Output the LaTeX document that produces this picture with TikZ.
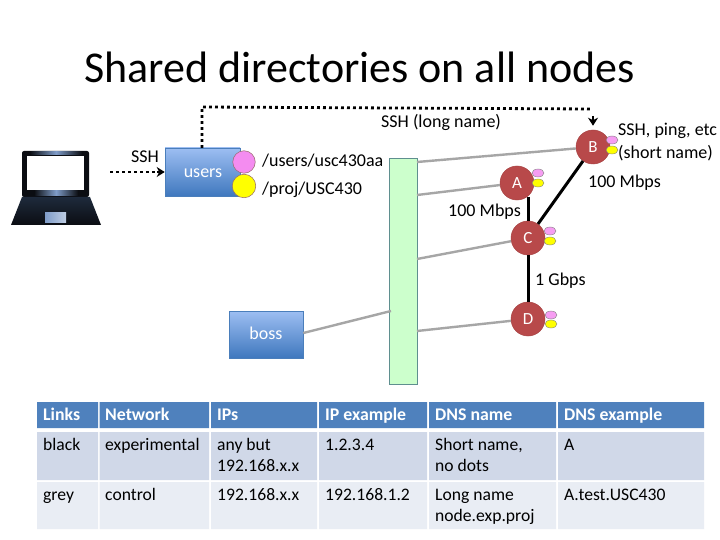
\documentclass[tikz,border=0pt]{standalone}
\usepackage{fontspec}
\setmainfont{Carlito}
\usetikzlibrary{arrows.meta,calc,shapes.geometric}
\definecolor{hdr}{HTML}{4F81BD}
\definecolor{rowa}{HTML}{D0D8E8}
\definecolor{rowb}{HTML}{E9EDF4}
\definecolor{nodered}{HTML}{B8494A}
\definecolor{nodedge}{HTML}{A84343}
\definecolor{pinkc}{HTML}{F48CF0}
\definecolor{yelc}{HTML}{FFFF00}
\definecolor{barfill}{HTML}{CCFFCC}
\definecolor{baredge}{HTML}{5F8F8F}
\definecolor{greyl}{HTML}{A6A6A6}
\definecolor{boxtop}{HTML}{9DBEF2}
\definecolor{boxbot}{HTML}{3F78BE}
\definecolor{boxedge}{HTML}{4A7EBB}
\definecolor{lapdark}{HTML}{0B0D12}
\definecolor{lapbase}{HTML}{1E2A3C}
\definecolor{lapshine}{HTML}{7F9CC8}
\tikzset{
  lbl/.style={inner sep=0pt,anchor=west,text height=12pt,text depth=1pt,font=\fontsize{18}{21}\selectfont,text=black},
  wlbl/.style={inner sep=0pt,text height=12pt,text depth=1pt,font=\fontsize{18}{21}\selectfont,text=white},
  bluebox/.style={draw=boxedge,line width=0.6pt,top color=boxtop,bottom color=boxbot,inner sep=0pt},
  netnode/.style={circle,fill=nodered,draw=nodedge,line width=0.5pt,minimum size=34pt,inner sep=0pt,text=white,font=\fontsize{17}{20}\selectfont},
  pinkbig/.style={circle,fill=pinkc,draw=nodered!40!gray,line width=0.5pt,minimum size=22.5pt,inner sep=0pt},
  yelbig/.style={circle,fill=yelc,draw=nodered!40!gray,line width=0.5pt,minimum size=23.5pt,inner sep=0pt},
  pinksm/.style={ellipse,fill=pinkc!85!white,draw=gray,line width=0.4pt,minimum width=12pt,minimum height=8pt,inner sep=0pt},
  yelsm/.style={ellipse,fill=yelc,draw=gray,line width=0.4pt,minimum width=12pt,minimum height=8pt,inner sep=0pt},
  blink/.style={draw=black,line width=3pt},
  glink/.style={draw=greyl,line width=2.4pt},
  dotlink/.style={draw=black,line width=2.8pt,dash pattern=on 2.8pt off 3.2pt},
  headlink/.style={draw=black,line width=2pt,-{Stealth[length=8pt,width=10pt,inset=2.5pt]}},
  hcell/.style={inner sep=0pt,anchor=west,text height=12pt,text depth=1pt,font=\fontsize{17.8}{21}\selectfont\bfseries,text=white},
  bcell/.style={inner sep=0pt,anchor=north west,align=left,font=\fontsize{17.6}{21}\selectfont,text=black},
}
\begin{document}
\begin{tikzpicture}[x=1pt,y=-1pt]
\useasboundingbox (0,0) rectangle (720,540);
\fill[white] (0,0) rectangle (720,540);
\node[inner sep=0pt,font=\fontsize{44}{52}\selectfont,text=black] (title) at (359.5,67) {Shared directories on all nodes};

% laptop
\fill[lapdark,rounded corners=2pt] (22,151) rectangle (89,197);
\shade[left color=lapdark,right color=lapdark,middle color=lapshine] (30,151.5) rectangle (82,155);
\shade[left color=lapdark,right color=lapdark,middle color=lapshine] (34,191) rectangle (78,196);
\fill[white] (27,156) rectangle (84,190);
\shade[top color=lapbase,bottom color=lapdark] (22,197) -- (90,197) -- (101,225) -- (11,225) -- cycle;
\shade[left color=lapshine,right color=lapshine!50!white] (45,213) rectangle (66,223);

% nodes
\node[bluebox,minimum width=75pt,minimum height=48pt] (users) at (202.5,172) {};
\node[wlbl] (userslbl) at (203,172) {users};
\node[pinkbig] (pk) at (244,162) {};
\node[yelbig] (yl) at (244,186) {};
\node[bluebox,minimum width=74pt,minimum height=47pt] (boss) at (266,334.5) {};
\node[wlbl] (bosslbl) at (266,334) {boss};
\node[draw=baredge,fill=barfill,line width=0.7pt,minimum width=28pt,minimum height=226pt,inner sep=0pt] (bar) at (403,271) {};

\coordinate (bB) at (417,162);
\coordinate (bA) at (417,195);
\coordinate (bC) at (417,259);
\coordinate (bD) at (417,331);
\coordinate (bBoss) at (391,311);

\node[netnode] (B) at (593,147) {B};
\node[netnode] (A) at (517,183) {A};
\node[netnode] (C) at (528,238) {C};
\node[netnode] (D) at (528,319) {D};
\node[pinksm] (Bp) at (612,140) {};
\node[yelsm] (By) at (612,150) {};
\node[pinksm] (Ap) at (538,173) {};
\node[yelsm] (Ay) at (538,183) {};
\node[pinksm] (Cp) at (550,231) {};
\node[yelsm] (Cy) at (550,241) {};
\node[pinksm] (Dp) at (551,315) {};
\node[yelsm] (Dy) at (551,324) {};

\path[glink] (bB) -- (B);
\path[glink] (bA) -- (A);
\path[glink] (bC) -- (C);
\path[glink] (bD) -- (D);
\path[glink] (boss.east |- 0,333) -- (bBoss);
\coordinate (Atop) at (528,197);
\path[blink] (Atop) -- (C);
\path[blink] (B) -- (C);
\path[blink] (C) -- (D);

% dotted connections
\coordinate (lap) at (110,172);
\coordinate (lapend) at (157,172);
\coordinate (ut) at (202,148);
\coordinate (uc) at (202,107);
\coordinate (bc) at (591,109);
\coordinate (bd) at (593,116);
\draw[dotlink] (lap) -- (lapend);
\draw[headlink] (lapend) -- (users.west |- lap);
\draw[dotlink] (ut) -- (uc) -- (bc);
\draw[headlink,shorten >=4pt] (bd) -- (B);

% labels
\node[lbl] (t1) at (131,157) {SSH};
\node[lbl] (t2) at (262,161) {/users/usc430aa};
\node[lbl] (t3) at (262,189) {/proj/USC430};
\node[lbl] (t4) at (381,122) {SSH (long name)};
\node[lbl] (t5) at (618,130) {SSH, ping, etc};
\node[lbl] (t6) at (618,153) {(short name)};
\node[lbl] (t7) at (588,182) {100 Mbps};
\node[lbl] (t8) at (448,211) {100 Mbps};
\node[lbl] (t9) at (535,280) {1 Gbps};

% table
\fill[hdr] (37,402) rectangle (98,428) (99.5,402) rectangle (209,428) (211,402) rectangle (317,428) (319,402) rectangle (427,428) (429,402) rectangle (556,428) (558,402) rectangle (704,428);
\fill[rowa] (37,432) rectangle (98,480) (99.5,432) rectangle (209,480) (211,432) rectangle (317,480) (319,432) rectangle (427,480) (429,432) rectangle (556,480) (558,432) rectangle (704,480);
\fill[rowb] (37,482) rectangle (98,529) (99.5,482) rectangle (209,529) (211,482) rectangle (317,529) (319,482) rectangle (427,529) (429,482) rectangle (556,529) (558,482) rectangle (704,529);

\node[hcell] (h1) at (43,415) {Links};
\node[hcell] (h2) at (105,415) {Network};
\node[hcell] (h3) at (217,415) {IPs};
\node[hcell] (h4) at (325,415) {IP example};
\node[hcell] (h5) at (435,415) {DNS name};
\node[hcell] (h6) at (564,415) {DNS example};

\node[bcell] (a1) at (43,436) {\strut black};
\node[bcell] (a2) at (105,436) {\strut experimental};
\node[bcell] (a3) at (217,436) {\strut any but\\\strut 192.168.x.x};
\node[bcell] (a4) at (325,436) {\strut 1.2.3.4};
\node[bcell] (a5) at (435,436) {\strut Short name,\\\strut no dots};
\node[bcell] (a6) at (564,436) {\strut A};

\node[bcell] (b1) at (43,486) {\strut grey};
\node[bcell] (b2) at (105,486) {\strut control};
\node[bcell] (b3) at (217,486) {\strut 192.168.x.x};
\node[bcell] (b4) at (325,486) {\strut 192.168.1.2};
\node[bcell] (b5) at (435,486) {\strut Long name\\\strut node.exp.proj};
\node[bcell] (b6) at (564,486) {\strut A.test.USC430};
\end{tikzpicture}
\end{document}
